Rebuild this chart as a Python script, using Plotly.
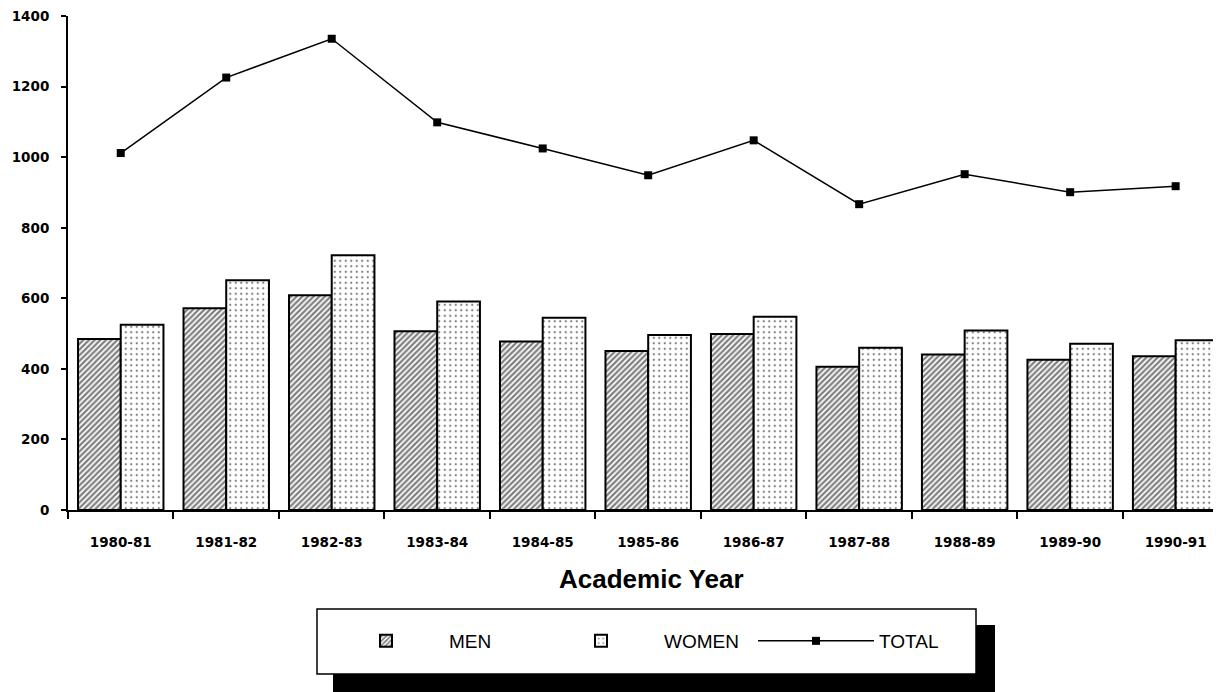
import plotly.graph_objects as go

# ---- data ----
years = ["1980-81", "1981-82", "1982-83", "1983-84", "1984-85", "1985-86",
         "1986-87", "1987-88", "1988-89", "1989-90", "1990-91"]
men = [485, 572, 609, 507, 478, 451, 499, 406, 441, 426, 436]
women = [525, 651, 722, 591, 545, 496, 548, 460, 509, 471, 481]
total = [1012, 1226, 1336, 1099, 1025, 949, 1048, 867, 952, 901, 918]
y_ticks = [0, 200, 400, 600, 800, 1000, 1200, 1400]

# ---- layout geometry (screen pixels; page body has an 8px margin) ----
OFF = 8
W, H = 1221 - OFF, 692 - OFF
PLOT_LEFT, PLOT_TOP, PLOT_BOTTOM = 68, 16, 510       # screen px
L = PLOT_LEFT - OFF
T = PLOT_TOP - OFF
B = H - (PLOT_BOTTOM - OFF)
R = 0
plot_w = W - L - R
plot_h = H - T - B


def px_x(sx):
    return (sx - OFF - L) / plot_w


def px_y(sy):
    return (PLOT_BOTTOM - sy) / plot_h


TICK_FONT = dict(family="DejaVu Sans", size=13.5, color="black", weight="bold")

fig = go.Figure()
fig.add_trace(go.Bar(
    name="MEN", x=years, y=men,
    marker=dict(color="white", line=dict(color="black", width=2),
                pattern=dict(shape="/", fgcolor="black", bgcolor="white",
                             size=4, solidity=0.55)),
))
fig.add_trace(go.Bar(
    name="WOMEN", x=years, y=women,
    marker=dict(color="white", line=dict(color="black", width=2),
                pattern=dict(shape=".", fgcolor="black", bgcolor="white",
                             size=5.5, solidity=0.14)),
))
fig.add_trace(go.Scatter(
    name="TOTAL", x=years, y=total, mode="lines+markers",
    line=dict(color="black", width=1.5),
    marker=dict(symbol="square", size=8, color="black"),
))

fig.update_layout(
    width=W, height=H,
    margin=dict(l=L, r=R, t=T, b=B, pad=0),
    paper_bgcolor="white", plot_bgcolor="white",
    barmode="group", bargap=0.19, bargroupgap=0,
    showlegend=True,
    legend=dict(
        orientation="h", x=px_x(323), y=px_y(641),
        xanchor="left", yanchor="middle",
        bgcolor="rgba(0,0,0,0)", borderwidth=0,
        font=dict(family="Liberation Sans", size=19, color="black"),
        entrywidth=84, entrywidthmode="pixels", itemwidth=116,
        traceorder="normal",
    ),
    xaxis=dict(
        type="category", range=[-0.5, 10.43],
        showline=True, linecolor="black", linewidth=2,
        ticks="outside", ticklen=7, tickwidth=1.5, tickcolor="black",
        tickson="boundaries", tickfont=TICK_FONT, ticklabelstandoff=19,
        ticklabeloverflow="allow",
        showgrid=False, zeroline=False,
    ),
    yaxis=dict(
        range=[0, 1400.5], tickvals=y_ticks,
        showline=True, linecolor="black", linewidth=2,
        ticks="outside", ticklen=5, tickwidth=1.5, tickcolor="black",
        tickfont=TICK_FONT, ticklabelstandoff=9,
        ticklabeloverflow="allow",
        showgrid=False, zeroline=False,
    ),
    shapes=[
        dict(type="rect", xref="paper", yref="paper",
             x0=px_x(333), x1=px_x(995), y0=px_y(625), y1=px_y(700),
             fillcolor="black", line=dict(width=0), layer="above"),
        dict(type="rect", xref="paper", yref="paper",
             x0=px_x(317), x1=px_x(976), y0=px_y(609), y1=px_y(674),
             fillcolor="white", line=dict(color="black", width=1.5), layer="above"),
    ],
    annotations=[
        dict(text="<b>Academic Year</b>", xref="paper", yref="paper",
             x=px_x(651), y=px_y(579), xanchor="center", yanchor="middle",
             showarrow=False,
             font=dict(family="Liberation Sans", size=26, color="black")),
    ],
)

fig.write_html("out.html")
